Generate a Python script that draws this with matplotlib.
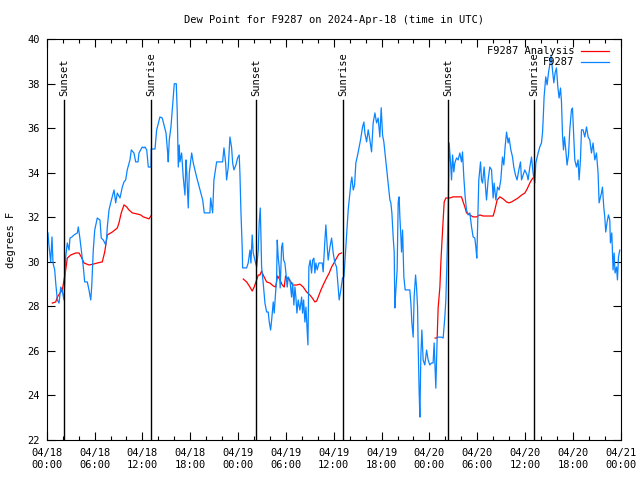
import numpy as np
import pandas as pd
import matplotlib
matplotlib.use("Agg")
import matplotlib.pyplot as plt
import matplotlib.dates as mdates
from matplotlib.lines import Line2D

plt.rcParams['font.family'] = ['DejaVu Sans Mono']
plt.rcParams['font.size'] = 7.5

start = pd.Timestamp("2024-04-18 00:00")

# observed dew point (hours after start, deg F)
obs_hours = [0.16, 0.25, 0.50, 0.66, 0.79, 1.00, 1.13, 1.33, 1.54, 1.76, 1.92, 2.17, 2.26, 2.38, 2.58,
             2.80, 2.92, 3.17, 3.42, 3.84, 3.96, 4.14, 4.34, 4.59, 4.76, 5.09, 5.30, 5.52, 5.64, 5.84,
             6.02, 6.34, 6.68, 6.84, 7.10, 7.40, 7.52, 7.60, 7.81, 8.02, 8.22, 8.44, 8.65, 8.85, 9.19,
             9.48, 9.69, 9.90, 10.10, 10.44, 10.61, 10.94, 11.16, 11.45, 11.57, 11.78, 11.98, 12.20,
             12.32, 12.54, 12.74, 13.08, 13.10, 13.58, 13.79, 14.20, 14.49, 14.71, 14.96, 15.17, 15.24,
             15.37, 15.58, 15.80, 16.00, 16.25, 16.37, 16.50, 16.62, 16.71, 16.92, 17.12, 17.34, 17.46,
             17.55, 17.75, 17.88, 18.18, 18.38, 18.80, 19.13, 19.56, 19.76, 20.47, 20.56, 20.81, 20.97,
             21.31, 22.06, 22.23, 22.44, 22.56, 22.77, 22.98, 23.19, 23.32, 23.48, 23.73, 23.94, 24.14,
             24.23, 24.36, 24.52, 24.57, 25.07, 25.27, 25.49, 25.61, 25.77, 25.90, 26.11, 26.33, 26.53,
             26.65, 26.78, 26.86, 26.95, 27.15, 27.37, 27.58, 27.78, 27.91, 28.08, 28.21, 28.41, 28.53,
             28.71, 28.83, 28.91, 29.03, 29.16, 29.28, 29.46, 29.58, 29.71, 29.87, 30.00, 30.16, 30.29,
             30.50, 30.71, 30.84, 31.00, 31.13, 31.25, 31.38, 31.54, 31.75, 31.97, 32.09, 32.22, 32.38,
             32.51, 32.63, 32.76, 32.88, 33.04, 33.22, 33.35, 33.51, 33.63, 33.76, 33.92, 34.14, 34.55,
             34.67, 34.89, 35.01, 35.18, 35.30, 35.52, 35.73, 35.93, 36.14, 36.35, 36.55, 36.68, 36.89,
             37.10, 37.27, 37.39, 37.61, 37.81, 38.02, 38.15, 38.27, 38.44, 38.61, 38.77, 38.99, 39.19,
             39.36, 39.49, 39.61, 39.78, 39.90, 40.12, 40.32, 40.53, 40.74, 40.94, 41.16, 41.37, 41.57,
             41.78, 41.95, 42.12, 42.28, 42.41, 42.62, 42.82, 43.04, 43.16, 43.29, 43.45, 43.58, 43.66,
             43.79, 43.95, 44.08, 44.20, 44.29, 44.42, 44.50, 44.63, 44.79, 44.96, 45.54, 45.67, 45.80,
             45.96, 46.08, 46.26, 46.38, 46.51, 46.58, 46.71, 46.80, 46.92, 47.05, 47.21, 47.42, 47.64,
             47.84, 48.05, 48.26, 48.46, 48.59, 48.80, 48.97, 49.52, 49.72, 49.93, 50.06, 50.22, 50.35,
             50.47, 50.65, 50.77, 50.90, 51.06, 51.18, 51.40, 51.60, 51.81, 52.02, 52.15, 52.31, 52.48,
             52.65, 52.85, 53.07, 53.28, 53.48, 53.69, 53.82, 53.94, 54.07, 54.19, 54.41, 54.53, 54.66,
             54.86, 55.03, 55.16, 55.36, 55.57, 55.79, 55.99, 56.11, 56.33, 56.54, 56.74, 56.95, 57.16,
             57.33, 57.49, 57.67, 57.87, 57.99, 58.21, 58.42, 58.58, 58.79, 58.99, 59.21, 59.42, 59.55,
             59.75, 59.96, 60.25, 60.37, 60.59, 60.80, 61.00, 61.21, 61.34, 61.63, 61.84, 62.05, 62.18,
             62.26, 62.38, 62.59, 62.76, 62.93, 63.09, 63.26, 63.43, 63.60, 63.76, 63.93, 64.10, 64.26,
             64.44, 64.56, 64.69, 64.81, 64.94, 65.10, 65.26, 65.44, 65.60, 65.81, 65.94, 66.02, 66.23,
             66.44, 66.64, 66.77, 66.94, 67.07, 67.27, 67.48, 67.70, 67.90, 68.11, 68.32, 68.52, 68.74,
             68.95, 69.15, 69.28, 69.45, 69.57, 69.70, 69.86, 69.99, 70.11, 70.28, 70.45, 70.62, 70.70,
             70.87, 71.03, 71.16, 71.28, 71.46, 71.58, 71.71, 71.87]
obs_dew = [31.30, 30.85, 29.99, 31.12, 29.95, 29.64, 29.05, 28.29, 28.15, 28.87, 28.74, 28.29, 29.05, 30.22, 30.85,
           30.53, 31.07, 31.12, 31.21, 31.30, 31.57, 31.12, 30.53, 29.77, 29.10, 29.10, 28.74, 28.29, 28.87, 30.53,
           31.43, 31.97, 31.88, 31.07, 30.98, 30.76, 31.12, 31.57, 32.33, 32.65, 32.92, 33.23, 32.65, 33.09, 32.87,
           33.36, 33.59, 33.68, 34.13, 34.58, 35.03, 34.89, 34.49, 34.49, 34.89, 35.03, 35.16, 35.12,
           35.16, 35.03, 34.26, 34.26, 35.07, 35.07, 35.93, 36.51, 36.46, 36.15, 35.79, 34.89, 34.49,
           35.48, 36.06, 37.05, 38.00, 38.00, 36.73, 34.26, 35.25, 34.49, 34.89, 33.81, 33.00, 34.58,
           34.13, 32.42, 33.99, 34.89, 34.44, 33.81, 33.36, 32.78, 32.20, 32.20, 32.87, 32.20, 33.68,
           34.49, 34.49, 35.12, 34.44, 33.68, 34.26, 35.61, 35.12, 34.44, 34.13, 34.35, 34.67, 34.80,
           33.99, 32.24, 30.62, 29.73, 29.73, 29.95, 30.53, 29.95, 31.21, 30.40, 30.08, 29.77, 30.53,
           31.75, 32.42, 31.30, 29.77, 29.05, 28.15, 27.75, 27.75, 27.30, 26.94, 27.39, 28.20, 27.70,
           28.65, 29.19, 30.98, 30.22, 29.77, 28.83, 30.67, 30.85, 30.08, 29.95, 29.50, 28.87, 29.32,
           29.19, 28.42, 29.05, 28.06, 28.87, 28.42, 27.70, 28.29, 27.84, 28.42, 27.70, 28.29, 27.30,
           27.97, 27.17, 26.27, 29.77, 30.08, 29.50, 30.08, 30.17, 29.50, 29.95, 29.64, 29.95, 29.95,
           29.55, 30.98, 31.66, 30.67, 30.08, 30.67, 31.07, 30.40, 29.95, 29.77, 28.87, 28.29, 28.74,
           29.28, 29.32, 29.95, 31.21, 32.33, 33.09, 33.54, 33.81, 33.23, 33.45, 34.44, 34.80, 35.16,
           35.48, 35.79, 36.06, 36.28, 35.79, 35.39, 35.93, 35.48, 34.94, 36.24, 36.69, 36.24, 36.46,
           35.61, 36.92, 35.70, 35.39, 34.94, 34.26, 33.54, 32.78, 32.65, 32.20, 31.12, 30.44, 27.93,
           28.74, 29.64, 32.69, 32.92, 32.02, 31.12, 30.44, 31.43, 29.32, 28.74, 28.74, 28.15, 27.25,
           26.62, 28.42, 29.41, 28.87, 27.97, 26.36, 24.16, 23.03, 25.73, 26.94, 25.59, 25.37, 26.04,
           25.59, 25.37, 25.46, 25.46, 26.36, 24.33, 26.62, 26.62, 26.58, 27.52, 28.29, 30.40, 32.33,
           35.34, 34.44, 33.68, 34.80, 34.04, 34.44, 34.67, 34.58, 34.89, 34.49, 34.94, 33.81, 32.92,
           32.33, 32.11, 32.20, 31.57, 31.12, 31.07, 30.67, 30.17, 32.02, 33.68, 34.49, 33.68, 33.54,
           34.26, 33.36, 32.78, 33.68, 34.26, 34.13, 32.87, 33.54, 32.78, 33.36, 33.23, 33.68, 34.71,
           34.35, 35.16, 35.83, 35.34, 35.57, 35.03, 34.71, 34.26, 33.90, 33.68, 34.13, 34.49, 33.68,
           33.90, 34.13, 33.90, 33.68, 34.26, 34.71, 33.99, 33.54, 34.44, 34.89, 35.16, 35.34, 35.79,
           36.37, 37.41, 38.31, 37.95, 38.49, 38.85, 39.29, 38.62, 38.04, 38.49, 38.71, 37.86, 37.36,
           37.81, 37.18, 35.70, 35.03, 35.61, 35.03, 34.35, 34.80, 35.93, 36.82, 36.91, 36.24, 34.58,
           34.26, 34.58, 33.68, 34.58, 35.93, 35.93, 35.61, 36.06, 35.61, 35.48, 34.89, 35.34, 34.58,
           34.89, 33.99, 32.65, 32.92, 33.09, 33.36, 32.47, 32.02, 31.34, 31.79, 32.11, 31.88, 30.85,
           31.30, 29.64, 30.40, 29.50, 29.77, 29.19, 30.22, 30.53]

# analysis (gaps as nan)
ana_hours = [0.70, 1.13, 1.33, 1.67, 1.96, 2.17, 2.38, 2.58, 3.01, 3.64, 4.05, 4.34, 4.68, 5.30, 5.84,
             6.34, 6.97, 7.27, 7.60, 8.22, 8.85, 9.06, 9.35, 9.69, 10.03, 10.32, 10.73, 11.36, 11.78,
             12.11, 12.54, 12.82, 13.07, np.nan,
             24.65, 25.07, 25.49, 25.77, 26.02, 26.33, 26.53, 26.74, 26.95, 27.15, 27.58, 28.00, 28.41,
             28.71, 28.96, 29.25, 29.54, 29.79, 29.96, 30.29, 30.63, 30.84, 31.34, 31.75, 32.17, 32.59,
             33.01, 33.30, 33.63, 33.85, 34.05, 34.39, 34.67, 35.10, 35.43, 35.73, 36.02, 36.35, 36.64,
             36.98, np.nan,
             48.71, 48.97, 49.09, 49.31, 49.43, 49.56, 49.72, 49.85, 50.06, 50.56, 50.97, 52.02, 52.23,
             52.44, 52.65, 53.07, 53.48, 53.91, 54.32, 54.73, 55.16, 55.79, 55.99, 56.20, 56.49, 56.83,
             57.24, 57.67, 57.99, 58.29, 58.70, 59.12, 59.55, 59.96, 60.25, 60.59, 60.80, 61.00]
ana_dew = [28.15, 28.20, 28.42, 28.60, 28.74, 29.19, 29.64, 30.17, 30.31, 30.40, 30.40, 30.22, 29.95, 29.86, 29.90,
           29.95, 30.00, 30.44, 31.21, 31.34, 31.52, 31.75, 32.20, 32.56, 32.47, 32.33, 32.20, 32.15, 32.11,
           32.02, 31.97, 31.93, 32.06, np.nan,
           29.23, 29.10, 28.87, 28.69, 28.87, 29.19, 29.41, 29.41, 29.59, 29.41, 29.10, 29.05, 28.92,
           28.87, 29.37, 29.19, 28.96, 28.87, 29.37, 29.23, 29.10, 28.96, 28.96, 29.00, 28.87, 28.65,
           28.51, 28.38, 28.20, 28.24, 28.42, 28.74, 28.96, 29.28, 29.50, 29.77, 29.95, 30.17, 30.35,
           30.40, np.nan,
           26.58, 26.58, 27.93, 28.87, 29.95, 30.85, 31.88, 32.69, 32.87, 32.87, 32.92, 32.92, 32.69,
           32.47, 32.20, 32.11, 32.02, 32.02, 32.11, 32.06, 32.06, 32.06, 32.06, 32.33, 32.78, 32.92,
           32.83, 32.69, 32.65, 32.69, 32.78, 32.87, 33.00, 33.09, 33.27, 33.54, 33.68, 33.77]

sun_hours = [2.21, 13.12, 26.28, 37.18, 50.35, 61.13]
sun_labels = ["Sunset", "Sunrise", "Sunset", "Sunrise", "Sunset", "Sunrise"]

series_names = ["F9287 Analysis", "F9287"]
series_colors = ["#ff0000", "#0a84ff"]

obs_t = start + pd.to_timedelta(obs_hours, unit="h")
ana_t = start + pd.to_timedelta(ana_hours, unit="h")
sun_t = start + pd.to_timedelta(sun_hours, unit="h")

fig = plt.figure(figsize=(6.4, 4.8), dpi=100)
ax = fig.add_axes([0.073, 0.0833, 0.897, 0.835])

ax.plot(ana_t, ana_dew, color=series_colors[0], lw=0.9)
ax.plot(obs_t, obs_dew, color=series_colors[1], lw=0.9)

for t, lab in zip(sun_t, sun_labels):
    ax.plot([t, t], [22, 37.27], color="black", lw=1.0)
    ax.text(t, 37.45, lab, rotation=90, ha="center", va="bottom")

ax.set_xlim(start, start + pd.Timedelta(hours=72))
ax.set_ylim(22, 40)
ax.set_yticks(np.arange(22, 41, 2))
ax.xaxis.set_major_locator(mdates.HourLocator(byhour=range(0, 24, 6)))
ax.xaxis.set_minor_locator(mdates.HourLocator(byhour=range(0, 24, 2)))
ax.xaxis.set_major_formatter(mdates.DateFormatter("%m/%d\n%H:%M"))
ax.tick_params(which="both", direction="in", top=True, right=True)
ax.tick_params(which="major", length=6, width=0.8)
ax.tick_params(which="minor", length=3, width=0.8)
ax.tick_params(axis="x", which="major", pad=6)
ax.tick_params(axis="y", which="major", pad=5)
for s in ax.spines.values():
    s.set_linewidth(0.8)

ax.set_ylabel("degrees F", labelpad=8)
ax.set_title("Dew Point for F9287 on 2024-Apr-18 (time in UTC)", fontsize=7.5, pad=12)

# gnuplot-style key: right-aligned text, sample line to the right
key_y = [0.9716, 0.9426]
for name, col, yy in zip(series_names, series_colors, key_y):
    ax.text(0.9187, yy, name, transform=ax.transAxes, ha="right", va="center")
    ax.add_line(Line2D([0.9304, 0.9797], [yy, yy], transform=ax.transAxes, color=col, lw=0.9))

fig.savefig("out.png", dpi=100)
